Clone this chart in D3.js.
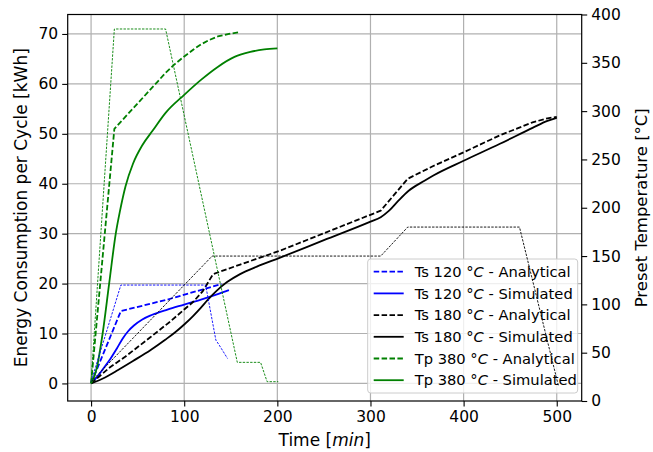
<!DOCTYPE html>
<html><head><meta charset="utf-8">
<script src="https://cdn.jsdelivr.net/npm/d3@7"></script>
<style>
body{margin:0;background:#fff}
text{font-family:"DejaVu Sans",sans-serif}
</style>
</head><body>
<svg id="c" width="653" height="452"></svg>
<script>
// ---------- data ----------
const xTicks = [0, 100, 200, 300, 400, 500];
const yLeftTicks = [0, 10, 20, 30, 40, 50, 60, 70];
const yRightTicks = [0, 50, 100, 150, 200, 250, 300, 350, 400];

// energy curves: [time (min), energy (kWh)]
const ts120Analytical = [[0,0],[32,14.5],[82,16.8],[140,19.9]];
const ts120Simulated = [[0,0],[7,1.4],[14,3.2],[21,5],[28,7.1],[34,9],[40,10.5],[46,11.6],[55,12.8],[65,13.7],[82,14.8],[100,15.8],[118,16.8],[136,17.9],[148,18.7]];
const ts180Analytical = [[0,0],[20,3.2],[37,5.4],[64,9.3],[85,12.4],[100,14.8],[110,16.4],[120,18.5],[131,21.9],[160,23.8],[203,26.6],[311,34.6],[340,41],[368,43.6],[400,46.3],[439,49.7],[474,52.3],[490,53.1],[500,53.4]];
const ts180Simulated = [[0,0],[15,1.2],[29,2.7],[45,4.5],[64,6.7],[80,8.8],[90,10.2],[100,11.8],[110,13.6],[118,15.2],[125,16.7],[135,18.6],[146,20.3],[160,21.9],[178,23.4],[203,25.2],[250,28.7],[300,32.4],[311,33.3],[320,34.6],[330,36.6],[341,38.6],[358,40.6],[368,41.7],[400,44.6],[439,48],[474,51.2],[490,52.6],[500,53.2]];
const tp380Analytical = [[0,0],[25,51],[80,62.2],[89,63.8],[100,65.5],[110,66.9],[118,67.9],[127,68.8],[136,69.5],[148,70],[159,70.35]];
const tp380Simulated = [[0,0],[6,3],[12.4,10],[19.4,20],[26.5,30],[31,34.5],[37,39.5],[45,44],[55,47.7],[66,50.6],[80,54.2],[100,57.8],[118,60.8],[136,63.4],[154,65.4],[171,66.4],[186,66.9],[200,67.1]];

// preset temperature profiles: [time (min), temperature (°C)]
const ts120Preset = [[0,20],[32,120],[123,120],[134,63],[137.5,58],[146.5,44]];
const ts180Preset = [[0,20],[130,150],[311,150],[340,180],[460,180],[502,15]];
const tp380Preset = [[0,20],[25,385],[80,385],[157,40],[182,40],[189,20],[201,20]];

const legendLabels = [
  ["Ts 120 ", " - Analytical"],
  ["Ts 120 ", " - Simulated"],
  ["Ts 180 ", " - Analytical"],
  ["Ts 180 ", " - Simulated"],
  ["Tp 380 ", " - Analytical"],
  ["Tp 380 ", " - Simulated"]
];

// ---------- layout ----------
const m = {left: 67.7, right: 581.7, top: 14.5, bottom: 401};
const svg = d3.select("#c");

const x = d3.scaleLinear().domain([-25.1, 526.8]).range([m.left, m.right]);
const y = d3.scaleLinear().domain([-3.52, 73.9]).range([m.bottom, m.top]);
const y2 = d3.scaleLinear().domain([0, 400]).range([m.bottom, m.top]);

// grid
const grid = svg.append("g");
grid.selectAll("line.gx").data(xTicks).join("line")
  .attr("x1", d => x(d)).attr("x2", d => x(d))
  .attr("y1", m.top).attr("y2", m.bottom)
  .attr("stroke", "#b0b0b0").attr("stroke-width", 1.2);
grid.selectAll("line.gy").data(yLeftTicks).join("line")
  .attr("y1", d => y(d)).attr("y2", d => y(d))
  .attr("x1", m.left).attr("x2", m.right)
  .attr("stroke", "#b0b0b0").attr("stroke-width", 1.2);

const tickFont = "15.5px";
const gx = svg.append("g").attr("transform", `translate(0,${m.bottom})`)
  .call(d3.axisBottom(x).tickValues(xTicks).tickSize(5.5).tickSizeOuter(0).tickPadding(4));
const gy = svg.append("g").attr("transform", `translate(${m.left},0)`)
  .call(d3.axisLeft(y).tickValues(yLeftTicks).tickSize(5.5).tickSizeOuter(0).tickPadding(4));
const gy2 = svg.append("g").attr("transform", `translate(${m.right},0)`)
  .call(d3.axisRight(y2).tickValues(yRightTicks).tickSize(5.5).tickSizeOuter(0).tickPadding(4));
[gx, gy, gy2].forEach(g => {
  g.select(".domain").remove();
  g.selectAll("line").attr("stroke", "#000").attr("stroke-width", 1.1);
  g.selectAll("text").attr("font-size", tickFont).attr("fill", "#000")
   .style("font-family", '"DejaVu Sans",sans-serif');
});

// frame
svg.append("rect").attr("x", m.left).attr("y", m.top)
  .attr("width", m.right - m.left).attr("height", m.bottom - m.top)
  .attr("fill", "none").attr("stroke", "#000").attr("stroke-width", 1.2);

// axis labels
const labFont = "16.5px";
const xl = svg.append("text").attr("x", (m.left + m.right) / 2).attr("y", 446)
  .attr("text-anchor", "middle").attr("font-size", "17px");
xl.append("tspan").text("Time [");
xl.append("tspan").attr("font-style", "italic").text("min");
xl.append("tspan").text("]");

svg.append("text").attr("transform", `translate(27,${(m.top + m.bottom) / 2}) rotate(-90)`)
  .attr("text-anchor", "middle").attr("font-size", "17px")
  .text("Energy Consumption per Cycle [kWh]");
svg.append("text").attr("transform", `translate(647,${(m.top + m.bottom) / 2}) rotate(-90)`)
  .attr("text-anchor", "middle").attr("font-size", labFont)
  .text("Preset Temperature [°C]");

// energy lines
const lineLin = d3.line().x(d => x(d[0])).y(d => y(d[1]));
const lineSmooth = d3.line().x(d => x(d[0])).y(d => y(d[1])).curve(d3.curveMonotoneX);
const lineT = d3.line().x(d => x(d[0])).y(d => y2(d[1]));

const plot = svg.append("g");
const series = [
  {data: ts120Analytical, color: "#0000ff", dash: "5.5,2.4", gen: lineLin},
  {data: ts120Simulated, color: "#0000ff", dash: null, gen: lineSmooth},
  {data: ts180Analytical, color: "#000000", dash: "5.5,2.4", gen: lineLin},
  {data: ts180Simulated, color: "#000000", dash: null, gen: lineSmooth},
  {data: tp380Analytical, color: "#008000", dash: "5.5,2.4", gen: lineLin},
  {data: tp380Simulated, color: "#008000", dash: null, gen: lineSmooth}
];
series.forEach(s => {
  plot.append("path").attr("d", s.gen(s.data))
    .attr("fill", "none").attr("stroke", s.color).attr("stroke-width", 1.8)
    .attr("stroke-dasharray", s.dash).attr("stroke-linejoin", "round");
});

// legend
const lgW = 210, lgH = 134;
const lgX = m.right - 4 - lgW, lgY = m.bottom - 8 - lgH;
const lg = svg.append("g");
lg.append("rect").attr("x", lgX).attr("y", lgY).attr("width", lgW).attr("height", lgH)
  .attr("rx", 3).attr("fill", "#fff").attr("fill-opacity", 0.8)
  .attr("stroke", "#cccccc").attr("stroke-width", 1);
series.forEach((s, i) => {
  const cy = lgY + 12.7 + i * 21.7;
  lg.append("line").attr("x1", lgX + 6).attr("x2", lgX + 36).attr("y1", cy).attr("y2", cy)
    .attr("stroke", s.color).attr("stroke-width", 1.8).attr("stroke-dasharray", s.dash);
  const t = lg.append("text").attr("x", lgX + 47).attr("y", cy).attr("dy", "0.36em")
    .attr("font-size", "14.7px");
  t.append("tspan").text(legendLabels[i][0]);
  t.append("tspan").text("°");
  t.append("tspan").attr("font-style", "italic").text("C");
  t.append("tspan").text(legendLabels[i][1]);
});

// preset temperature (twin axis) lines
const presets = [
  {data: ts120Preset, color: "#0000ff"},
  {data: ts180Preset, color: "#000000"},
  {data: tp380Preset, color: "#008000"}
];
presets.forEach(p => {
  svg.append("path").attr("d", lineT(p.data))
    .attr("fill", "none").attr("stroke", p.color).attr("stroke-width", 0.9)
    .attr("stroke-dasharray", "2.4,1.3");
});
</script>
</body></html>
